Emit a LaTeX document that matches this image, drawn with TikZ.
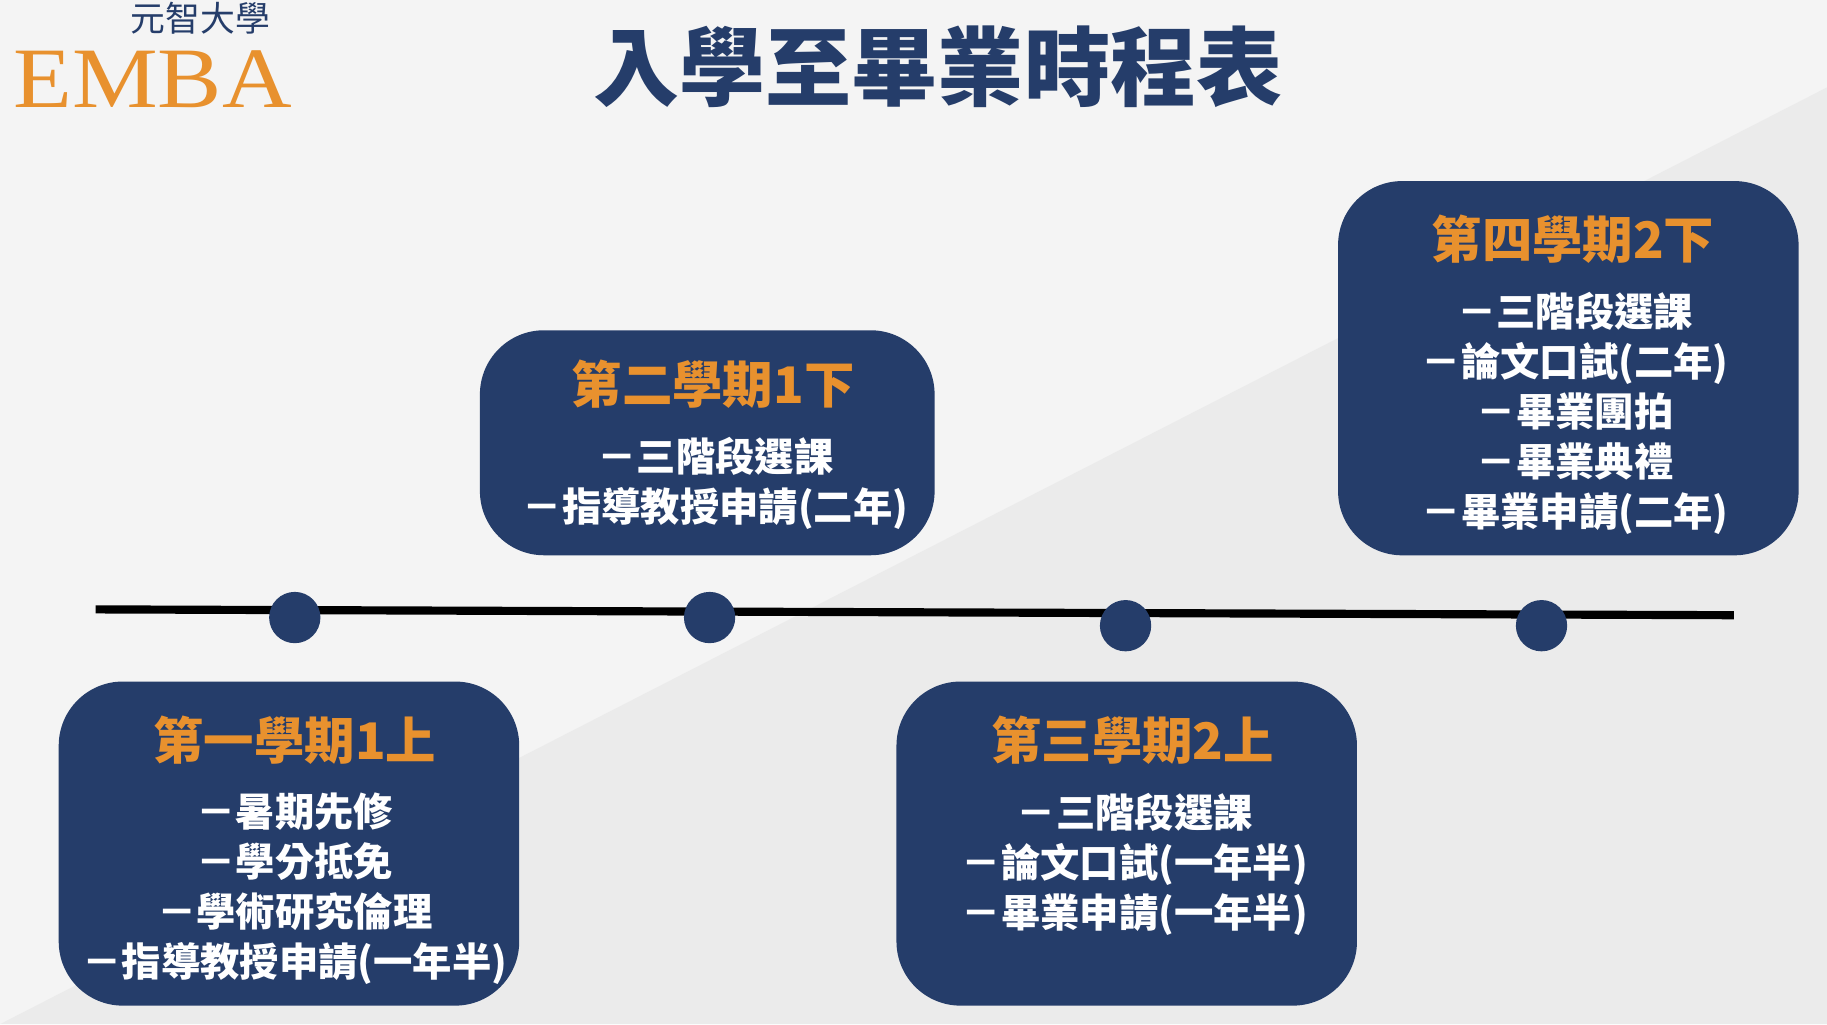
\documentclass[tikz,border=0pt]{standalone}
\usepackage{fontspec}
\setmainfont{Liberation Serif}
\newfontfamily\cjk{Noto Sans CJK TC}
\usetikzlibrary{positioning}
\definecolor{navy}{HTML}{253D6A}
\definecolor{gold}{HTML}{E8912E}
\definecolor{paper}{HTML}{F4F4F4}
\definecolor{bgband}{HTML}{EBEBEB}
\tikzset{
  card/.style={rectangle, rounded corners=0.55cm, fill=navy, minimum width=3.95cm, minimum height=2.78cm},
  cardtitle/.style={text=gold, font=\cjk\bfseries\fontsize{12.3}{14}\selectfont},
  carditems/.style={text=white, align=center, font=\cjk\bfseries\fontsize{9.6}{12.2}\selectfont},
  stop/.style={circle, fill=navy, minimum size=0.44cm, inner sep=0pt}
}
\begin{document}
\begin{tikzpicture}[x=0.01cm, y=-0.01cm]
  \useasboundingbox (0,0) rectangle (1568,879);
  \fill[paper] (0,0) rectangle (1568,879);
  \fill[bgband] (0,879) -- (1568,75) -- (1568,879) -- cycle;

  % header
  \node[text=navy, font=\cjk\bfseries\fontsize{21}{24}\selectfont] (head) at (805,57) {入學至畢業時程表};
  \node[text=navy, font=\cjk\fontsize{8.5}{10}\selectfont] (school) at (172,16) {元智大學};
  \node[text=gold, font=\fontsize{21}{22}\selectfont, xscale=1.12, inner sep=0pt] (emba) at (131,68) {EMBA};

  % timeline
  \coordinate (tl) at (82,523);
  \coordinate (tr) at (1488,528);
  \draw[line width=0.07cm] (tl) -- (tr);
  \node[stop] (d1) at (253,530) {};
  \node[stop] (d2) at (609,530) {};
  \node[stop] (d3) at (966,537) {};
  \node[stop] (d4) at (1323,537) {};

  % cards
  \node[card] (c1) at (248,724) {};
  \node[card, minimum width=3.9cm, minimum height=1.93cm] (c2) at (607,380) {};
  \node[card] (c3) at (967,724) {};
  \node[card, minimum height=3.21cm] (c4) at (1346,316) {};

  \node[cardtitle] (t1) at (253,635) {第一學期1上};
  \node[carditems, anchor=north] (i1) at (253,668) {－暑期先修\\－學分抵免\\－學術研究倫理\\－指導教授申請(一年半)};
  \node[cardtitle] (t2) at (612,330) {第二學期1下};
  \node[carditems, anchor=north] (i2) at (614,363) {－三階段選課\\－指導教授申請(二年)};
  \node[cardtitle] (t3) at (972,635) {第三學期2上};
  \node[carditems, anchor=north] (i3) at (974,668) {－三階段選課\\－論文口試(一年半)\\－畢業申請(一年半)};
  \node[cardtitle] (t4) at (1350,205) {第四學期2下};
  \node[carditems, anchor=north] (i4) at (1352,238) {－三階段選課\\－論文口試(二年)\\－畢業團拍\\－畢業典禮\\－畢業申請(二年)};
\end{tikzpicture}
\end{document}
